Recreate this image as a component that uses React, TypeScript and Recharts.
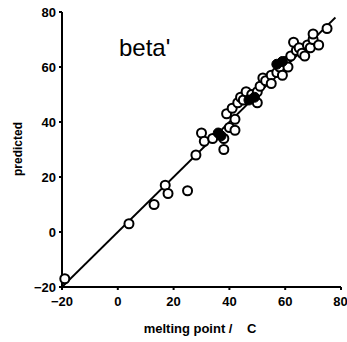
import { ScatterChart, Scatter, XAxis, YAxis, ReferenceLine, Label } from 'recharts';

const ticks = [-20, 0, 20, 40, 60, 80];

const openX = [-19, 4, 13, 17, 18, 25, 28, 30, 31, 34, 38, 38, 39, 40, 41, 42, 42, 43, 44, 45, 46, 48, 50, 50, 51, 52, 53, 55, 55, 57, 58, 59, 60, 61, 62, 63, 64, 65, 66, 67, 68, 69, 70, 70, 72, 75];
const openY = [-17, 3, 10, 17, 14, 15, 28, 36, 33, 34, 30, 34, 43, 38, 45, 41, 37, 47, 49, 48, 51, 50, 47, 51, 53, 56, 55, 57, 54, 58, 60, 57, 62, 60, 64, 69, 66, 67, 65, 64, 68, 67, 70, 72, 68, 74];

const filledX = [37, 36, 47, 49, 57, 59];
const filledY = [35, 36, 48, 49, 61, 62];

const openPts = openX.map((x, i) => ({ x, y: openY[i] }));
const filledPts = filledX.map((x, i) => ({ x, y: filledY[i] }));

const fmt = (v: number) => (v < 0 ? '\u2212' + Math.abs(v) : String(v));

const font = 'Liberation Sans, Arial, sans-serif';
const tickStyle = { fontFamily: font, fontSize: 13, fontWeight: 700, fill: '#000' };

const OpenDot = (p: any) => (
    <circle cx={p.cx} cy={p.cy} r={4.5} fill="#fff" stroke="#000" strokeWidth={2} />
);
const FilledDot = (p: any) => (
    <circle cx={p.cx} cy={p.cy} r={5} fill="#000" stroke="#000" strokeWidth={1} />
);

export default function App() {
    return (
        <div style={{ position: 'absolute', left: 0, top: 0, width: 347, height: 342, background: '#fff' }}>
            <ScatterChart width={347} height={342} margin={{ top: 12, right: 6, left: 0, bottom: 0 }}>
                <XAxis
                    type="number"
                    dataKey="x"
                    domain={[-20, 80]}
                    ticks={ticks}
                    tickFormatter={fmt}
                    height={55}
                    stroke="#000"
                    strokeWidth={2}
                    tickSize={3}
                    tickMargin={7}
                    tick={tickStyle}
                >
                    <Label
                        content={() => (
                            <text x={200} y={333} textAnchor="middle" style={{ whiteSpace: 'pre' }}
                                fontFamily={font} fontSize={13} fontWeight={700} fill="#000">
                                {'melting point /    C'}
                            </text>
                        )}
                    />
                </XAxis>
                <YAxis
                    type="number"
                    dataKey="y"
                    domain={[-20, 80]}
                    ticks={ticks}
                    tickFormatter={fmt}
                    width={62}
                    stroke="#000"
                    strokeWidth={2}
                    tickSize={3}
                    tickMargin={3}
                    tick={tickStyle}
                >
                    <Label
                        content={() => (
                            <text x={22} y={149} transform="rotate(-90 22 149)" textAnchor="middle"
                                fontFamily={font} fontSize={12} fontWeight={700} fill="#000">
                                predicted
                            </text>
                        )}
                    />
                </YAxis>
                <ReferenceLine
                    segment={[{ x: -20, y: -20 }, { x: 78, y: 78 }]}
                    stroke="#000"
                    strokeWidth={1.8}
                    ifOverflow="visible"
                />
                <Scatter data={openPts} shape={OpenDot} isAnimationActive={false} />
                <Scatter data={filledPts} shape={FilledDot} isAnimationActive={false} />
            </ScatterChart>
            <div style={{ position: 'absolute', left: 119, top: 34, fontFamily: font, fontSize: 24, color: '#000' }}>
                beta'
            </div>
        </div>
    );
}
